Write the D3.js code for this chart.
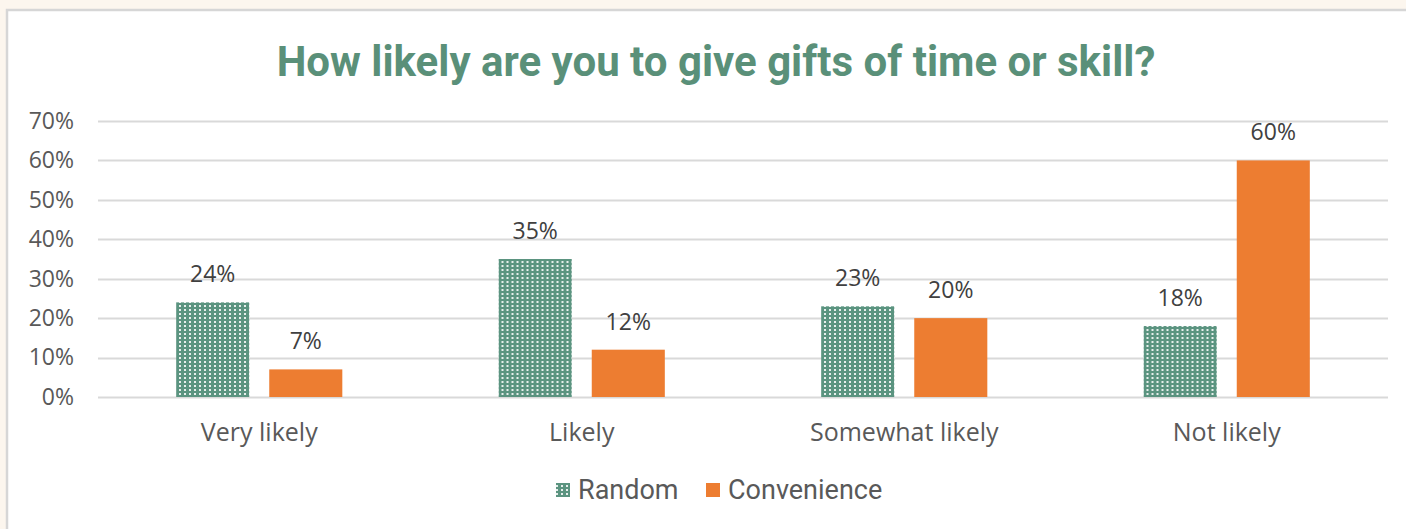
<!DOCTYPE html>
<html>
<head>
<meta charset="utf-8">
<script src="https://cdn.jsdelivr.net/npm/d3@7"></script>
<style>
  html, body { margin: 0; padding: 0; background: #fcf6ee; }
  svg { display: block; }
</style>
</head>
<body>
<div id="chart"></div>
<script>
const categories = ["Very likely", "Likely", "Somewhat likely", "Not likely"];
const seriesNames = ["Random", "Convenience"];
const randomValues = [0.24, 0.35, 0.23, 0.18];
const convenienceValues = [0.07, 0.12, 0.20, 0.60];
const yTicks = [0, 0.1, 0.2, 0.3, 0.4, 0.5, 0.6, 0.7];

const W = 1406, H = 529;
const green = "#5b9480", orange = "#ed7d31";
const labelColor = "#595959";

const svg = d3.select("#chart").append("svg")
  .attr("width", W)
  .attr("height", H);

// dotted fill for the Random series
const defs = svg.append("defs");
const pat = defs.append("pattern")
  .attr("id", "dots")
  .attr("patternUnits", "userSpaceOnUse")
  .attr("width", 5)
  .attr("height", 4);
pat.append("rect").attr("width", 5).attr("height", 4).attr("fill", green);
pat.append("rect").attr("x", 1).attr("y", 1).attr("width", 2).attr("height", 2)
  .attr("fill", "#ffffff").attr("opacity", 0.85);

// chart frame
svg.append("rect")
  .attr("x", 7).attr("y", 10)
  .attr("width", W + 20).attr("height", H + 20)
  .attr("fill", "#ffffff")
  .attr("stroke", "#d6d6d6")
  .attr("stroke-width", 2.5);

svg.append("text")
  .attr("x", 716).attr("y", 76)
  .attr("text-anchor", "middle")
  .attr("font-family", "Roboto, sans-serif")
  .attr("font-weight", "bold")
  .attr("font-size", 42)
  .attr("fill", "#5a9079")
  .text("How likely are you to give gifts of time or skill?");

const x0 = d3.scaleBand()
  .domain(categories)
  .range([98, 1388]);

const x1 = d3.scaleBand()
  .domain(seriesNames)
  .range([0, x0.bandwidth()])
  .paddingInner(0.215)
  .paddingOuter(0.84);

const y = d3.scaleLinear()
  .domain([0, 0.7])
  .range([397, 121]);

// gridlines
svg.append("g")
  .selectAll("line")
  .data(yTicks)
  .join("line")
  .attr("x1", 98).attr("x2", 1388)
  .attr("y1", d => Math.round(y(d)) + 0.5)
  .attr("y2", d => Math.round(y(d)) + 0.5)
  .attr("stroke", "#d9d9d9")
  .attr("stroke-width", 2);

// y axis labels
const yAxis = svg.append("g")
  .attr("transform", "translate(98,0)")
  .call(d3.axisLeft(y).tickValues(yTicks).tickFormat(d3.format(".0%")).tickSize(0).tickPadding(24));
yAxis.select(".domain").remove();
yAxis.selectAll("text")
  .attr("font-family", "'Open Sans', sans-serif")
  .attr("font-size", 23)
  .attr("fill", labelColor);

// x axis labels
const xAxis = svg.append("g")
  .attr("transform", "translate(0,397)")
  .call(d3.axisBottom(x0).tickSize(0).tickPadding(26));
xAxis.select(".domain").remove();
xAxis.selectAll("text")
  .attr("font-family", "'Open Sans', sans-serif")
  .attr("font-size", 25)
  .attr("fill", labelColor);

const rows = categories.map((c, i) => ({
  cat: c,
  vals: [
    { key: "Random", v: randomValues[i] },
    { key: "Convenience", v: convenienceValues[i] }
  ]
}));

const groups = svg.append("g")
  .selectAll("g")
  .data(rows)
  .join("g")
  .attr("transform", d => `translate(${x0(d.cat)},0)`);

groups.selectAll("rect")
  .data(d => d.vals)
  .join("rect")
  .attr("x", d => x1(d.key))
  .attr("width", x1.bandwidth())
  .attr("y", d => y(d.v))
  .attr("height", d => y(0) - y(d.v))
  .attr("fill", d => d.key === "Random" ? "url(#dots)" : orange);

groups.selectAll("text")
  .data(d => d.vals)
  .join("text")
  .attr("x", d => x1(d.key) + x1.bandwidth() / 2)
  .attr("y", d => y(d.v) - 20)
  .attr("text-anchor", "middle")
  .attr("font-family", "'Open Sans', sans-serif")
  .attr("font-size", 23)
  .attr("fill", "#404040")
  .text(d => d3.format(".0%")(d.v));

// legend
const legend = svg.append("g");
const legendItems = [
  { key: "Random", x: 556, fill: "url(#dots)" },
  { key: "Convenience", x: 706, fill: orange }
];
legend.selectAll("rect")
  .data(legendItems)
  .join("rect")
  .attr("x", d => d.x).attr("y", 483)
  .attr("width", 14).attr("height", 14)
  .attr("fill", d => d.fill);
legend.selectAll("text")
  .data(legendItems)
  .join("text")
  .attr("x", d => d.x + 22).attr("y", 499)
  .attr("font-family", "Roboto, sans-serif")
  .attr("font-size", 27)
  .attr("fill", labelColor)
  .text(d => d.key);
</script>
</body>
</html>
